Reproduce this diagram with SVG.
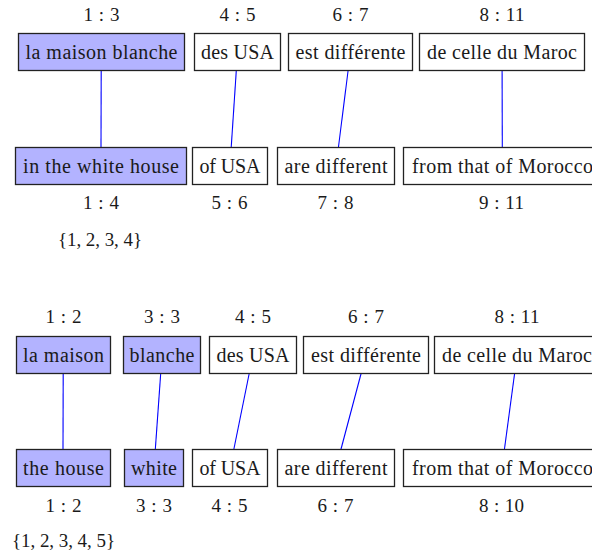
<svg xmlns="http://www.w3.org/2000/svg" width="592" height="556" viewBox="0 0 592 556">
<style>
.box{fill:#fff;stroke:#222;stroke-width:1.3}
.hl{fill:#b3b3ff}
.t{font-family:"Liberation Serif","Times New Roman",serif;font-size:20px;fill:#1a1a1a;text-anchor:middle}
.lbl{font-family:"Liberation Serif","Times New Roman",serif;font-size:19px;fill:#1a1a1a;text-anchor:middle}
.ln{stroke:#0000ff;stroke-width:1.1;fill:none}
</style>
<rect width="592" height="556" fill="#fff"/>
<g id="connectors">
<line class="ln" x1="101.2" y1="70.5" x2="101" y2="147.5"/>
<line class="ln" x1="236.3" y1="70.5" x2="231.2" y2="147.5"/>
<line class="ln" x1="348.1" y1="70.5" x2="338.4" y2="147.5"/>
<line class="ln" x1="502.1" y1="70.5" x2="502.3" y2="147.5"/>
<line class="ln" x1="63.2" y1="373.5" x2="63" y2="449.5"/>
<line class="ln" x1="160.7" y1="373.5" x2="155.3" y2="449.5"/>
<line class="ln" x1="249.2" y1="373.5" x2="233.8" y2="449.5"/>
<line class="ln" x1="361.1" y1="373.5" x2="340.9" y2="449.5"/>
<line class="ln" x1="514.6" y1="373.5" x2="504.4" y2="449.5"/>
</g>
<!-- Section 1 -->
<g id="s1-src-1"><rect class="box hl" x="18.5" y="33.5" width="166" height="37"/><text class="t" x="101.5" y="58.5" textLength="152">la maison blanche</text><text class="lbl" x="101.5" y="21" textLength="36">1 : 3</text></g>
<g id="s1-src-2"><rect class="box" x="194.5" y="33.5" width="86" height="37"/><text class="t" x="237.5" y="58.5" textLength="73">des USA</text><text class="lbl" x="237.5" y="21" textLength="36">4 : 5</text></g>
<g id="s1-src-3"><rect class="box" x="288.5" y="33.5" width="124" height="37"/><text class="t" x="350.5" y="58.5" textLength="110">est différente</text><text class="lbl" x="350.5" y="21" textLength="36">6 : 7</text></g>
<g id="s1-src-4"><rect class="box" x="419.5" y="33.5" width="165" height="37"/><text class="t" x="502" y="58.5" textLength="150">de celle du Maroc</text><text class="lbl" x="502" y="21" textLength="45">8 : 11</text></g>
<g id="s1-tgt-1"><rect class="box hl" x="15.5" y="147.5" width="171" height="37"/><text class="t" x="101" y="172.5" textLength="156">in the white house</text><text class="lbl" x="101" y="209" textLength="36">1 : 4</text></g>
<g id="s1-tgt-2"><rect class="box" x="192.5" y="147.5" width="75" height="37"/><text class="t" x="230" y="172.5" textLength="61">of USA</text><text class="lbl" x="229.5" y="209" textLength="36">5 : 6</text></g>
<g id="s1-tgt-3"><rect class="box" x="277.5" y="147.5" width="117" height="37"/><text class="t" x="336" y="172.5" textLength="103">are different</text><text class="lbl" x="335.5" y="209" textLength="36">7 : 8</text></g>
<g id="s1-tgt-4"><rect class="box" x="403.5" y="147.5" width="198" height="37"/><text class="t" x="502.5" y="172.5" textLength="181">from that of Morocco</text><text class="lbl" x="501.5" y="209" textLength="45">9 : 11</text></g>
<g id="s1-set"><text class="lbl" x="100" y="246" textLength="84">{1, 2, 3, 4}</text></g>
<!-- Section 2 -->
<g id="s2-src-1"><rect class="box hl" x="16.5" y="336.5" width="94" height="37"/><text class="t" x="63.5" y="361.5" textLength="81">la maison</text><text class="lbl" x="63.5" y="322.5" textLength="36">1 : 2</text></g>
<g id="s2-src-2"><rect class="box hl" x="123.5" y="336.5" width="77" height="37"/><text class="t" x="162" y="361.5" textLength="65">blanche</text><text class="lbl" x="162" y="322.5" textLength="36">3 : 3</text></g>
<g id="s2-src-3"><rect class="box" x="209.5" y="336.5" width="87" height="37"/><text class="t" x="253" y="361.5" textLength="73">des USA</text><text class="lbl" x="253" y="322.5" textLength="36">4 : 5</text></g>
<g id="s2-src-4"><rect class="box" x="303.5" y="336.5" width="125" height="37"/><text class="t" x="366" y="361.5" textLength="110">est différente</text><text class="lbl" x="366" y="322.5" textLength="36">6 : 7</text></g>
<g id="s2-src-5"><rect class="box" x="434.5" y="336.5" width="165" height="37"/><text class="t" x="517" y="361.5" textLength="150">de celle du Maroc</text><text class="lbl" x="517" y="322.5" textLength="45">8 : 11</text></g>
<g id="s2-tgt-1"><rect class="box hl" x="16.5" y="449.5" width="94" height="37"/><text class="t" x="63.5" y="474.5" textLength="81">the house</text><text class="lbl" x="63.5" y="511.5" textLength="36">1 : 2</text></g>
<g id="s2-tgt-2"><rect class="box hl" x="124.5" y="449.5" width="59" height="37"/><text class="t" x="154" y="474.5" textLength="46">white</text><text class="lbl" x="154" y="511.5" textLength="36">3 : 3</text></g>
<g id="s2-tgt-3"><rect class="box" x="192.5" y="449.5" width="75" height="37"/><text class="t" x="230" y="474.5" textLength="61">of USA</text><text class="lbl" x="229.5" y="511.5" textLength="36">4 : 5</text></g>
<g id="s2-tgt-4"><rect class="box" x="277.5" y="449.5" width="117" height="37"/><text class="t" x="336" y="474.5" textLength="103">are different</text><text class="lbl" x="335.5" y="511.5" textLength="36">6 : 7</text></g>
<g id="s2-tgt-5"><rect class="box" x="403.5" y="449.5" width="198" height="37"/><text class="t" x="502.5" y="474.5" textLength="181">from that of Morocco</text><text class="lbl" x="501.5" y="511.5" textLength="45">8 : 10</text></g>
<g id="s2-set"><text class="lbl" x="63.5" y="546.5" textLength="103">{1, 2, 3, 4, 5}</text></g>
</svg>
